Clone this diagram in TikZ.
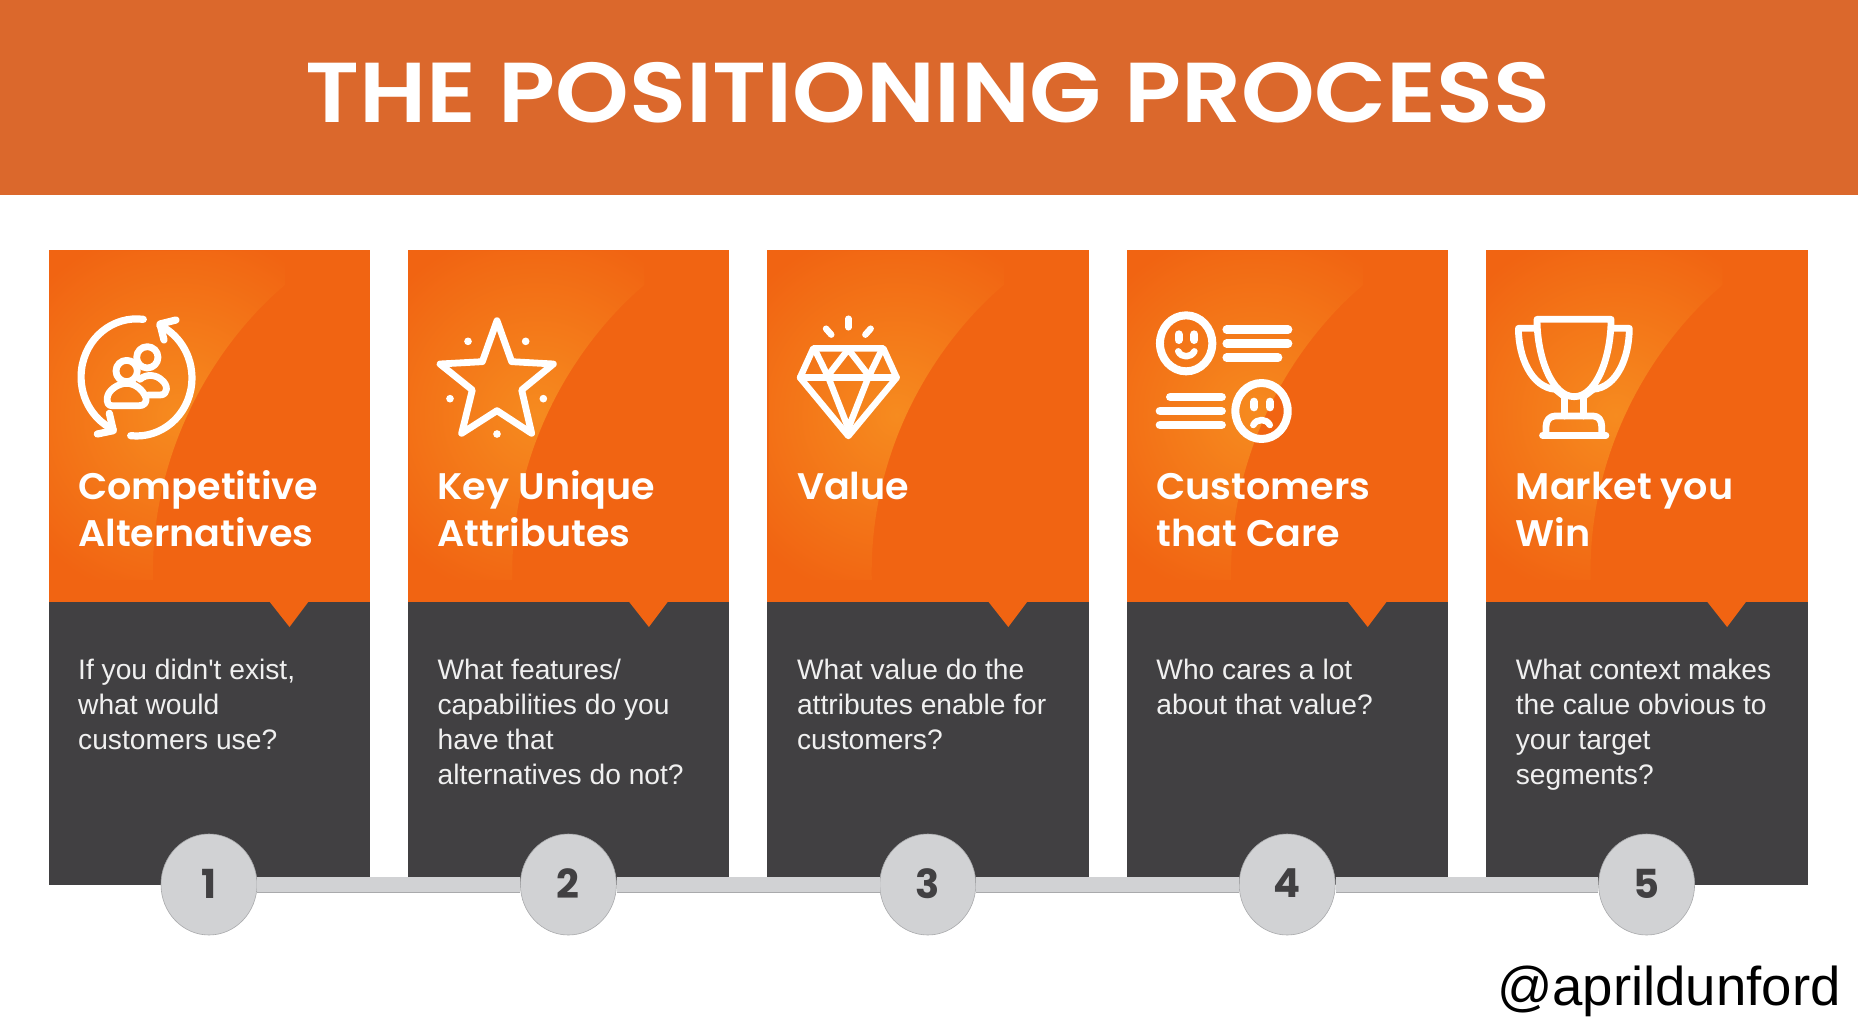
\documentclass[tikz,border=0pt]{standalone}
\usepackage{fontspec}
\usetikzlibrary{shapes.geometric}
\newfontfamily\bodyfont{Liberation Sans}
\newfontfamily\titlefont{Poppins SemiBold}[FakeStretch=1.103]
\newfontfamily\headfont{Poppins SemiBold}[FakeStretch=1.03]
\newfontfamily\numfont{Poppins Bold}
\definecolor{hdr}{HTML}{DB682C}
\definecolor{org}{HTML}{F16412}
\definecolor{dark}{HTML}{414042}
\definecolor{bub}{HTML}{D1D2D4}
\definecolor{bubedge}{HTML}{A9AAAC}
\pgfdeclareradialshading{glowsh}{\pgfpointorigin}{rgb(0bp)=(.965,.545,.122); rgb(50bp)=(.945,.392,.071)}
\tikzset{
  ico/.style={draw=white,line width=6.8pt,line cap=round,line join=round},
  headtxt/.style={anchor=north west,inner sep=0pt,text=white,align=left,font=\headfont\fontsize{37}{47}\selectfont},
  bodytxt/.style={anchor=north west,inner sep=0pt,text=white!94!black,align=left,font=\bodyfont\fontsize{28.2}{35}\selectfont},
  bubble/.style={ellipse,fill=bub,draw=bubedge,line width=.6pt,minimum width=96pt,minimum height=101pt,inner sep=0pt,text=dark,font=\numfont\fontsize{40}{40}\selectfont},
  zo/.style={shift={(#1)},x=1pt/3,y=-1pt/3},
}
\begin{document}
\begin{tikzpicture}[x=1pt,y=-1pt]
\useasboundingbox (0,0) rectangle (1858,1036);
\fill[white] (0,0) rectangle (1858,1036);
\fill[hdr] (0,0) rectangle (1858,195);
\node[inner sep=0pt,text=white,font=\titlefont\fontsize{85}{85}\selectfont,anchor=base] (title) at (928,122) {THE POSITIONING PROCESS};
\foreach \i/\h/\b in {
 0/{Competitive\\Alternatives}/{If you didn't exist,\\what would\\customers use?},
 1/{Key Unique\\Attributes}/{What features/\\capabilities do you\\have that\\alternatives do not?},
 2/{Value}/{What value do the\\attributes enable for\\customers?},
 3/{Customers\\that Care}/{Who cares a lot\\about that value?},
 4/{Market you\\Win}/{What context makes\\the calue obvious to\\your target\\segments?}}{
 \begin{scope}[shift={(359.4*\i,0)}]
  \fill[org] (48.5,250) rectangle (370,601.5);
  \begin{scope}
   \clip (50,251) -- (285,251) -- (285,285) .. controls (225,335) and (150,440) .. (153,580) -- (50,580) -- cycle;
   \begin{scope}[shift={(178,415)}]
    \pgflowlevelsynccm
    \pgflowlevel{\pgftransformscale{3.75}}
    \pgfuseshading{glowsh}
   \end{scope}
  \end{scope}
  \fill[dark] (48.5,601.5) rectangle (370,885);
  \fill[org] (269,601) -- (309,601) -- (289.5,627) -- cycle;
  \node[headtxt] (h\i) at (78,466) {\strut\h};
  \node[bodytxt] (b\i) at (78,654.5) {\strut\b};
  \node[bubble] (c\i) at (209,884.5) {\raisebox{2pt}{\pgfmathparse{int(\i+1)}\pgfmathresult}};
 \end{scope}
}
\foreach \a/\b in {0/1,1/2,2/3,3/4}{
 \draw[bubedge,line width=16pt] (c\a) -- (c\b);
 \draw[bub,line width=15pt] (c\a) -- (c\b);
}
% icon 1
\begin{scope}[zo={40,240}]
 \draw[ico,line width=7.2pt] (310,238) arc[start angle=-83,end angle=-245,x radius=166.5,y radius=174];
 \draw[ico,line width=7.2pt] (272,587) arc[start angle=-264,end angle=-425,x radius=166.5,y radius=174];
 \draw[ico,line width=7.2pt] (208,520) -- (220,572) -- (172,582);
 \draw[ico,line width=7.2pt] (372,300) -- (360,252) -- (408,240);
 \draw[ico] (322,352) circle[radius=32];
 \draw[ico] (260,393) circle[radius=32];
 \draw[ico] (215,497) -- (298,497) .. controls (312,497) and (320,488) .. (318,474) .. controls (310,450) and (285,430) .. (260,430) .. controls (235,430) and (205,450) .. (202,472) .. controls (200,488) and (205,497) .. (215,497);
 \draw[ico] (300,418) .. controls (320,400) and (350,405) .. (365,420) .. controls (385,435) and (385,465) .. (360,465) -- (325,465);
\end{scope}
% icon 2 star
\begin{scope}[zo={420,290}]
 \draw[ico] (231,92) -- (275,215) -- (400,222) -- (305,300) -- (335,430) -- (231,362) -- (125,430) -- (157,300) -- (60,222) -- (187,215) -- cycle;
 \foreach \p in {(144,154),(317,154),(90,326),(370,326),(231,432)} \fill[white] \p circle[radius=11.5];
\end{scope}
% icon 3 diamond
\begin{scope}[zo={420,290}]
 \draw[ico,line width=6.4pt] (1180,175) -- (1390,175) -- (1430,263) -- (1285,438) -- (1140,263) -- cycle;
 \draw[ico,line width=6.4pt] (1140,263) -- (1430,263);
 \draw[ico,line width=6.4pt] (1185,180) -- (1225,262) -- (1285,415) -- (1345,262) -- (1385,180);
 \draw[ico,line width=6.4pt] (1225,255) -- (1285,178) -- (1345,255);
 \draw[ico,line width=6.4pt] (1285,86) -- (1285,112);
 \draw[ico,line width=6.4pt] (1218,116) -- (1234,134);
 \draw[ico,line width=6.4pt] (1352,116) -- (1336,134);
\end{scope}
% icon 4 faces
\begin{scope}[shift={(1130,290)},x=1pt/2.904,y=-1pt/3]
 \draw[ico,line width=8pt] (163,160) circle[x radius=76,y radius=84];
 \draw[ico,line width=8pt] (382,363) circle[x radius=76,y radius=84];
 \draw[ico,line width=8pt] (141,133) -- (141,150) (187,133) -- (187,150) (360,335) -- (360,352) (406,335) -- (406,352);
 \draw[ico,line width=6.5pt] (140,184) .. controls (150,204) and (176,204) .. (187,184);
 \draw[ico,line width=6.5pt] (358,405) .. controls (368,385) and (396,385) .. (406,405);
 \draw[ico,line width=8.6pt] (281,119) -- (459,119) (281,161) -- (459,161) (281,203) -- (430,203);
 \draw[ico,line width=8.6pt] (117,321) -- (266,321) (87,363) -- (266,363) (87,405) -- (266,405);
\end{scope}
% icon 5 trophy
\begin{scope}[shift={(1130,290)},x=1pt/2.904,y=-1pt/3]
 \draw[ico] (1182,88) -- (1397,88) .. controls (1397,200) and (1355,320) .. (1290,320) .. controls (1225,320) and (1182,200) .. (1182,88) -- cycle;
 \draw[ico] (1178,115) -- (1128,115) .. controls (1128,200) and (1165,292) .. (1235,298) -- (1262,320);
 \draw[ico] (1402,115) -- (1450,115) .. controls (1450,200) and (1415,292) .. (1345,298) -- (1317,320);
 \draw[ico] (1262,320) -- (1262,378) (1317,320) -- (1317,378);
 \draw[ico] (1208,436) -- (1208,410) .. controls (1208,390) and (1220,378) .. (1235,378) -- (1345,378) .. controls (1360,378) and (1370,390) .. (1370,410) -- (1370,436);
 \draw[ico] (1198,436) -- (1382,436);
\end{scope}
\node[inner sep=0pt,anchor=base east,text=black,font=\bodyfont\fontsize{54.6}{55}\selectfont] (handle) at (1841,1005) {@aprildunford};
\end{tikzpicture}
\end{document}
